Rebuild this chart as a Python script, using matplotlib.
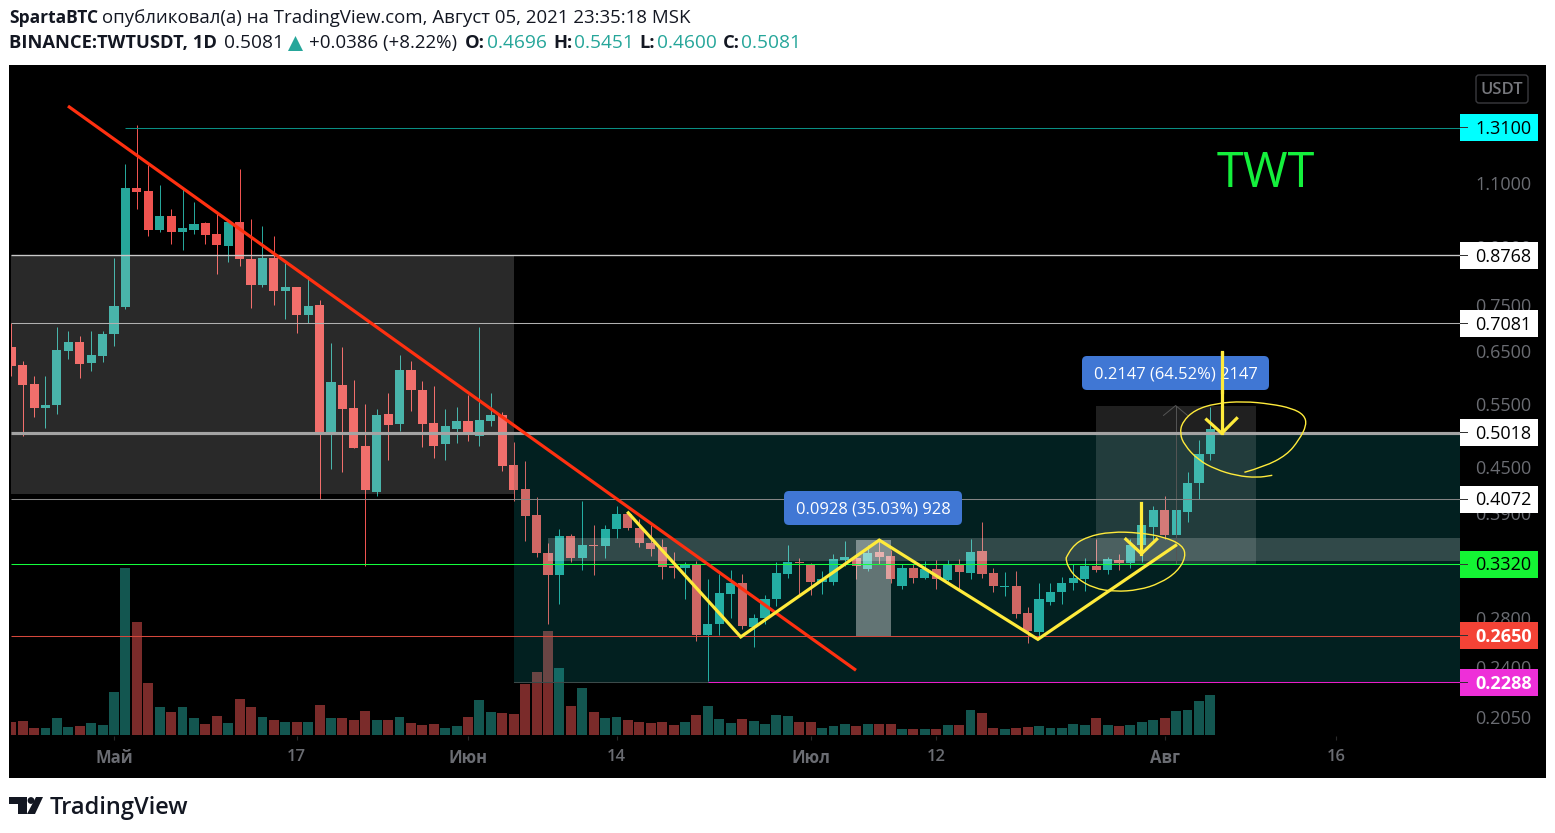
import matplotlib
matplotlib.use("Agg")
from matplotlib import pyplot as plt
from matplotlib.patches import FancyBboxPatch, PathPatch, Polygon, Circle, Rectangle
from matplotlib.path import Path
import numpy as np

plt.rcParams["font.family"] = ["Open Sans", "DejaVu Sans"]

# one candle per day, day 0 is May 1st
days = list(range(-9, 97))
opens = [.658, .621, .586, .543, .548, .650, .667, .626, .638, .684, .745, 1.083, 1.073, .949, .994, .943, .949, .970, .937, .902,
         .973, .866, .800, .869, .785, .795, .726, .750, .499, .584, .542, .482, .417, .533, .516, .611, .575, .518, .484, .508,
         .521, .497, .521, .531, .454, .420, .387, .344, .321, .363, .338, .352, .351, .371, .389, .372, .355, .350, .330, .328,
         .331, .266, .275, .302, .313, .272, .280, .297, .322, .334, .332, .314, .314, .336, .338, .327, .345, .341, .310, .328,
         .318, .327, .316, .332, .323, .346, .323, .309, .310, .285, .268, .295, .304, .313, .317, .330, .326, .336, .333, .352,
         .373, .393, .364, .391, .429, .4696]
highs = [.708, .630, .600, .600, .699, .691, .680, .691, .691, .871, 1.168, 1.320, 1.164, 1.093, 1.014, 1.080, 1.036, .973, .998, .973,
         1.150, .982, .961, .931, .855, .795, .823, .762, .665, .658, .592, .550, .540, .569, .642, .630, .590, .581, .540, .545,
         .566, .699, .569, .535, .488, .459, .410, .355, .371, .365, .405, .375, .376, .398, .391, .382, .375, .359, .345, .334,
         .335, .317, .322, .326, .322, .284, .301, .334, .352, .338, .333, .325, .343, .357, .343, .353, .359, .347, .332, .332,
         .335, .336, .336, .337, .359, .379, .328, .324, .325, .290, .313, .313, .319, .332, .338, .359, .340, .343, .359, .376,
         .399, .411, .420, .444, .491, .5451]
lows = [.600, .496, .528, .510, .533, .632, .596, .609, .628, .660, .740, 1.014, .931, .943, .908, .891, .937, .908, .826, .858,
        .847, .742, .793, .750, .717, .688, .708, .407, .448, .443, .478, .330, .411, .461, .504, .537, .480, .463, .461, .486,
        .489, .482, .513, .445, .405, .357, .340, .275, .293, .334, .326, .321, .338, .360, .370, .350, .341, .317, .318, .297,
        .261, .230, .266, .280, .271, .256, .275, .291, .318, .302, .301, .302, .311, .330, .317, .325, .332, .313, .307, .313,
        .317, .307, .315, .307, .317, .318, .304, .300, .280, .259, .265, .292, .293, .306, .305, .324, .322, .326, .328, .334,
        .358, .359, .359, .379, .408, .4600]
closes = [.619, .584, .543, .548, .652, .667, .624, .640, .684, .747, 1.083, 1.070, .949, .994, .943, .955, .967, .934, .905, .973,
          .866, .800, .869, .783, .793, .726, .747, .499, .588, .540, .479, .419, .531, .515, .611, .575, .516, .482, .512, .521,
          .499, .523, .531, .452, .419, .386, .344, .321, .363, .338, .353, .351, .371, .389, .372, .355, .348, .329, .328, .331,
          .266, .275, .303, .313, .273, .280, .297, .323, .334, .333, .314, .317, .337, .339, .330, .344, .340, .317, .328, .318,
          .327, .317, .332, .324, .345, .322, .310, .310, .284, .269, .297, .304, .313, .318, .330, .326, .337, .333, .352, .376,
          .393, .364, .393, .429, .470, .5081]
volumes = [13, 14, 7, 7, 17, 8, 9, 12, 10, 43, 167, 113, 52, 28, 23, 28, 17, 11, 19, 12,
           36, 28, 18, 15, 13, 13, 13, 30, 17, 17, 15, 24, 15, 15, 18, 12, 10, 11, 7, 9,
           18, 35, 23, 22, 21, 51, 63, 104, 67, 29, 47, 23, 17, 18, 15, 13, 12, 13, 10, 13,
           20, 29, 16, 12, 16, 14, 11, 20, 19, 13, 13, 7, 9, 11, 9, 11, 11, 11, 6, 6,
           6, 6, 10, 10, 25, 22, 7, 6, 7, 8, 9, 7, 7, 11, 10, 17, 10, 9, 10, 13,
           15, 17, 24, 25, 34, 40]

tick_days = [0, 16, 31, 44, 61, 72, 92, 107]
tick_names = ["Май", "17", "Июн", "14", "Июл", "12", "Авг", "16"]
price_ticks = [1.1, 0.9, 0.75, 0.65, 0.55, 0.45, 0.39, 0.28, 0.24, 0.205]

# price, first day, colour, width in px, label box, label text
levels = [
    (1.31, 1, "#0a8f84", 1, "#00ffff", "#000000"),
    (0.8768, -9.02, "#c9c9c9", 1.3, "#ffffff", "#000000"),
    (0.7081, -9.02, "#b0b0b0", 1, "#ffffff", "#000000"),
    (0.5018, -9.02, "#a3a3a3", 3, "#ffffff", "#000000"),
    (0.4072, -9.02, "#858585", 1, "#ffffff", "#000000"),
    (0.332, -9.02, "#14ff3c", 1, "#14f534", "#000000"),
    (0.265, -9.02, "#d5483c", 1, "#f44336", "#ffffff"),
    (0.2288, 52, "#e91ec8", 1, "#ee2fd8", "#ffffff"),
]

trend_days, trend_prices = [-4.03, 64.97], [1.403, 0.2377]
zig_days = [45.03, 54.88, 67.01, 80.9, 92.96]
zig_prices = [0.390, 0.264, 0.358, 0.262, 0.352]

PX_LEFT, PX_RIGHT, PX_TOP, PX_BOTTOM = 11, 1460, 64.3, 736.3
W, H = 1555, 833

fig = plt.figure(figsize=(W / 100, H / 100), dpi=100, facecolor="white")
pos = [PX_LEFT / W, 1 - PX_BOTTOM / H, (PX_RIGHT - PX_LEFT) / W, (PX_BOTTOM - PX_TOP) / H]

# full figure axes in pixels for header, logo and pane background
bg = fig.add_axes([0, 0, 1, 1], zorder=0)
bg.set_xlim(0, W)
bg.set_ylim(H, 0)
bg.axis("off")
bg.add_patch(Rectangle((9, 65), 1537, 713, color="black", lw=0))

ax_vol = fig.add_axes(pos, zorder=1)
ax_vol.patch.set_alpha(0)
ax_vol.set_xlim(-9.02, 117.86)
ax_vol.set_ylim(-1.3, 670.7)
ax_vol.axis("off")

ax = fig.add_axes(pos, zorder=2)
ax.patch.set_alpha(0)
ax.set_yscale("log")
ax.set_xlim(-9.02, 117.86)
ax.set_ylim(0.1931, 1.600)
ax.set_axisbelow(True)
for s in ax.spines.values():
    s.set_visible(False)

up = [c >= o for o, c in zip(opens, closes)]
vol_colors = ["#135650" if u else "#7a2b2a" for u in up]
ax_vol.bar(days, volumes, width=0.87, color=vol_colors, lw=0)

candle_colors = ["#26a69a" if u else "#ef5350" for u in up]
bottoms = [min(o, c) for o, c in zip(opens, closes)]
tops = [max(o, c) for o, c in zip(opens, closes)]
wicks = ax.vlines(days, lows, highs, color=candle_colors, lw=0.72, zorder=3)
wicks.set_snap(True)
ax.bar(days, [t - b for t, b in zip(tops, bottoms)], bottom=bottoms, width=0.8,
       color=candle_colors, lw=0, zorder=3)

# shaded zones over the candles
ax.add_patch(Rectangle((-9.02, 0.4145), 44.05, 0.8768 - 0.4145, color="white", alpha=0.165, lw=0, zorder=4))
ax.add_patch(Rectangle((35.03, 0.2288), 82.83, 0.5018 - 0.2288, color=(20 / 255, 220 / 255, 220 / 255), alpha=0.15, lw=0, zorder=4))
ax.add_patch(Rectangle((38, 0.335), 79.86, 0.360 - 0.335, color="white", alpha=0.19, lw=0, zorder=4))
ax.add_patch(Rectangle((65, 0.265), 3, 0.0928, color="white", alpha=0.38, lw=0, zorder=4))
ax.add_patch(Rectangle((86, 0.332), 14, 0.2147, color="white", alpha=0.13, lw=0, zorder=4))
ax.plot([92.96, 92.96], [0.332, 0.5467], color="#555555", lw=0.7, zorder=4)
ax.plot([91.9, 92.96, 94.0], [0.530, 0.5467, 0.530], color="#555555", lw=0.7, zorder=4)
ax.plot([35.03, 52], [0.2288, 0.2288], color="#3c4a4a", lw=0.75, zorder=4)

for price, start, color, width, box, txt in levels:
    ax.plot([start, 117.86], [price, price], color=color, lw=width * 0.75, zorder=5, snap=True, solid_capstyle="butt")
    y_px = H - ax.transData.transform((0, price))[1]
    fig.add_artist(Rectangle((PX_RIGHT / W, 1 - (y_px + 13.5) / H), 78 / W, 27 / H,
                             transform=fig.transFigure, color=box, lw=0, zorder=8))
    fig.add_artist(Rectangle((PX_RIGHT / W, 1 - (y_px + 0.5) / H), 8 / W, 1 / H,
                             transform=fig.transFigure, color="#333333", lw=0, zorder=9))
    fig.text(1475 / W, 1 - (y_px + 1.2) / H, "%.4f" % price, color=txt, fontsize=13, va="center", ha="left", zorder=9,
             fontweight="bold" if txt == "#ffffff" else "normal")

ax.plot(trend_days, trend_prices, color="#ff3010", lw=2.3, zorder=6, solid_capstyle="butt")
ax.plot(zig_days, zig_prices, color="#ffeb3b", lw=2.3, zorder=7, solid_joinstyle="miter")

# arrows
ax.plot([97, 97], [0.6465, 0.501], color="#ffeb3b", lw=2.3, zorder=7)
ax.plot([95.67, 97, 98.3], [0.523, 0.501, 0.525], color="#ffeb3b", lw=2.3, zorder=7)
ax.plot([89.97, 89.97], [0.402, 0.343], color="#ffeb3b", lw=2.3, zorder=7)
ax.plot([88.6, 89.97, 91.3], [0.359, 0.343, 0.359], color="#ffeb3b", lw=2.3, zorder=7)

ax.set_xticks(tick_days)
ax.set_xticklabels(tick_names)
ax.set_yticks(price_ticks)
ax.set_yticklabels(["%.4f" % p for p in price_ticks])
ax.minorticks_off()
ax.yaxis.tick_right()
ax.tick_params(axis="y", colors="#6a6c72", labelsize=13, length=0, pad=10.8)
ax.tick_params(axis="x", colors="#6a6c72", labelsize=12, length=3, color="#2a2a2a", pad=6.5)
for lab, name in zip(ax.get_xticklabels(), tick_names):
    lab.set_fontweight("bold" if not name.isdigit() else "semibold")

# top layer in pixels: tool labels, doodles, header
top = fig.add_axes([0, 0, 1, 1], zorder=3)
top.patch.set_alpha(0)
top.set_xlim(0, W)
top.set_ylim(H, 0)
top.axis("off")


def label_box(x0, x1, y0, y1, s):
    top.add_patch(FancyBboxPatch((x0 + 5, y0 + 5), x1 - x0 - 10, y1 - y0 - 10, boxstyle="round,pad=5",
                                 fc="#4077d4", ec="none", zorder=1))
    top.text((x0 + x1) / 2, (y0 + y1) / 2 + 1.5, s, color="white", fontsize=11.9, ha="center", va="center", zorder=2)


label_box(784, 962, 491, 525, "0.0928 (35.03%) 928")
label_box(1082, 1269, 356, 390, "0.2147 (64.52%) 2147")

# arrow passes over the second label
top.plot([1221.5, 1221.5], [353, 392], color="#ffeb3b", lw=2.3, zorder=3)


def doodle(points):
    pts = np.array(points, float)
    verts = [pts[0]]
    codes = [Path.MOVETO]
    for a, b in zip(pts[1:-1], pts[2:]):
        verts += [a, (a + b) / 2]
        codes += [Path.CURVE3, Path.CURVE3]
    verts.append(pts[-1])
    codes.append(Path.LINETO)
    top.add_patch(PathPatch(Path(verts, codes), fc="none", ec="#ffeb3b", lw=1.0, zorder=3))


big_ring = [(1244.4, 472.3), (1264.3, 466.7), (1286.8, 455), (1299, 440), (1306.7, 425), (1304.2, 415), (1292, 408.3),
            (1271.2, 404), (1243.4, 401.3), (1215.6, 403.3), (1194.7, 410), (1182.5, 421.7), (1179.8, 433.3),
            (1184.3, 445), (1198.2, 460), (1215.6, 469.3), (1236.4, 475.7), (1257.3, 477.7), (1272.3, 475.3)]
small_ring = [(1066, 558.3), (1071.3, 546.7), (1086.9, 536.7), (1111.3, 531.7), (1139, 532.7), (1163.4, 536.7),
              (1182.5, 545), (1186, 556.7), (1177.3, 571.7), (1160, 583.3), (1139, 590), (1114.7, 591.7),
              (1093.9, 588.3), (1076.5, 578.3), (1067.8, 566.7), (1066, 558.3)]
doodle(big_ring)
doodle(small_ring)

top.text(1266, 174, "TWT", color="#14f03c", fontsize=35, ha="center", va="center")

top.add_patch(FancyBboxPatch((1479, 78), 46, 22, boxstyle="round,pad=3", fc="black", ec="#3a3a3e", lw=1))
top.text(1502, 89.5, "USDT", color="#77787d", fontsize=12, fontweight="semibold", ha="center", va="center")

# header
DARK = "#131722"
TEAL = "#26a69a"
top.text(9, 18, "SpartaBTC", color=DARK, fontsize=12.5, fontweight="bold", va="center")
top.text(102, 18, "опубликовал(а) на TradingView.com, Август 05, 2021 23:35:18 MSK", color=DARK, fontsize=13.45, va="center")
top.text(9, 43, "BINANCE:TWTUSDT, 1D", color=DARK, fontsize=13.2, fontweight="bold", va="center")
top.text(224, 43, "0.5081", color=DARK, fontsize=13.8, va="center")
top.add_patch(Polygon([(288, 51), (303, 51), (295.5, 36)], color=TEAL, lw=0))
top.text(309, 43, "+0.0386 (+8.22%)", color=DARK, fontsize=13.5, va="center")
for x, s in [(465, "O:"), (553, "H:"), (639, "L:"), (723, "C:")]:
    top.text(x, 43, s, color=DARK, fontsize=13.2, fontweight="bold", va="center")
for x, s in [(487, "0.4696"), (574, "0.5451"), (657, "0.4600"), (741, "0.5081")]:
    top.text(x, 43, s, color=TEAL, fontsize=13.8, va="center")

# TradingView logo
top.add_patch(Polygon([(9, 797), (27, 797), (27, 814), (18, 814), (18, 804), (9, 804)], color=DARK, lw=0))
top.add_patch(Circle((31, 800.5), 3.4, color=DARK, lw=0))
top.add_patch(Polygon([(36, 797), (43, 797), (35, 814), (27, 814)], color=DARK, lw=0))
top.text(50, 807.5, "TradingView", color=DARK, fontsize=17, fontweight="semibold", va="center")

fig.savefig("out.png", dpi=100, facecolor="white")
